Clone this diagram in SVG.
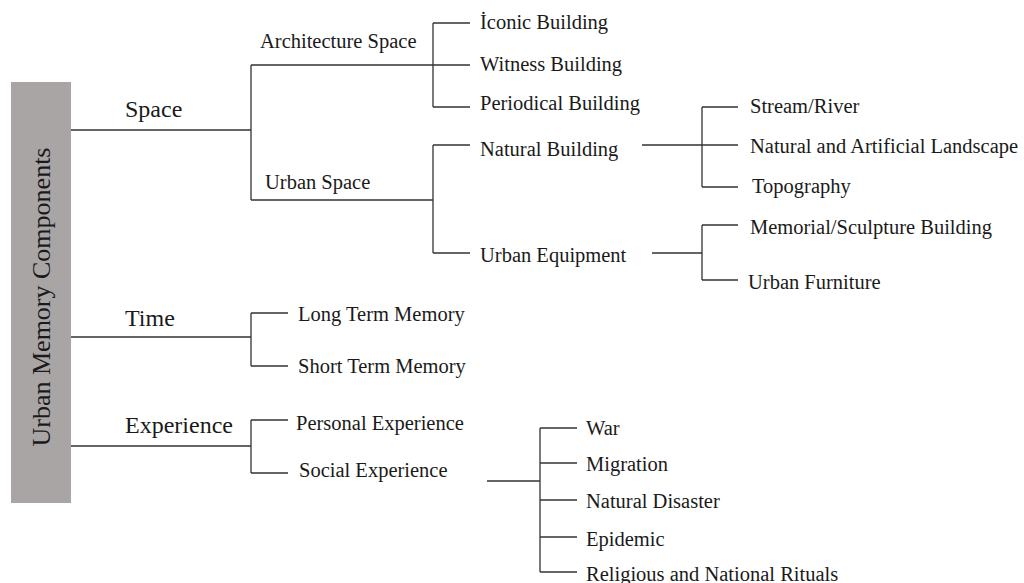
<svg xmlns="http://www.w3.org/2000/svg" width="1024" height="583" viewBox="0 0 1024 583">
<style>
text{font-family:"Liberation Serif","Times New Roman",serif;fill:#1a1a1a;font-size:20.5px}
.l1{font-size:24px}
.root{font-size:26px}
#connectors path{fill:none;stroke:#333;stroke-width:1.3}
</style>
<rect width="1024" height="583" fill="#fff"/>
<g id="root">
<rect x="11" y="82" width="60" height="421" fill="#a9a5a5"/>
<text class="root" transform="translate(50,297) rotate(-90)" text-anchor="middle">Urban Memory Components</text>
</g>
<g id="connectors">
<path d="M71,130H251M251,65V200M251,65H470M251,200H433"/>
<path d="M433,23V107M433,23H470M433,107H470"/>
<path d="M433,145V253M433,145H470M433,253H470"/>
<path d="M642,145H738M702,107V187M702,107H738M702,187H738"/>
<path d="M652,253H702M702,225V280M702,225H738M702,280H738"/>
<path d="M71,337H251M251,313V366M251,313H288M251,366H288"/>
<path d="M71,446H251M251,420V473M251,420H288M251,473H288"/>
<path d="M487,481H540M540,428V572M540,428H577M540,463H577M540,500H577M540,537H577M540,572H577"/>
</g>
<g id="space"><text class="l1" x="125" y="117">Space</text></g>
<g id="time"><text class="l1" x="125" y="326">Time</text></g>
<g id="experience"><text class="l1" x="125" y="433">Experience</text></g>
<g id="architecture-space"><text x="260" y="48">Architecture Space</text></g>
<g id="urban-space"><text x="265" y="189">Urban Space</text></g>
<g id="iconic"><text x="480" y="29">İconic Building</text></g>
<g id="witness"><text x="480" y="71">Witness Building</text></g>
<g id="periodical"><text x="480" y="110">Periodical Building</text></g>
<g id="natural-building"><text x="480" y="156">Natural Building</text></g>
<g id="urban-equipment"><text x="480" y="262">Urban Equipment</text></g>
<g id="stream"><text x="750" y="113">Stream/River</text></g>
<g id="landscape"><text x="750" y="153">Natural and Artificial Landscape</text></g>
<g id="topography"><text x="752" y="193">Topography</text></g>
<g id="memorial"><text x="750" y="234">Memorial/Sculpture Building</text></g>
<g id="furniture"><text x="748" y="289">Urban Furniture</text></g>
<g id="long-term"><text x="298" y="321">Long Term Memory</text></g>
<g id="short-term"><text x="298" y="373">Short Term Memory</text></g>
<g id="personal"><text x="296" y="430">Personal Experience</text></g>
<g id="social"><text x="299" y="477">Social Experience</text></g>
<g id="war"><text x="586" y="435">War</text></g>
<g id="migration"><text x="586" y="471">Migration</text></g>
<g id="disaster"><text x="586" y="508">Natural Disaster</text></g>
<g id="epidemic"><text x="586" y="546">Epidemic</text></g>
<g id="rituals"><text x="586" y="581">Religious and National Rituals</text></g>
</svg>
